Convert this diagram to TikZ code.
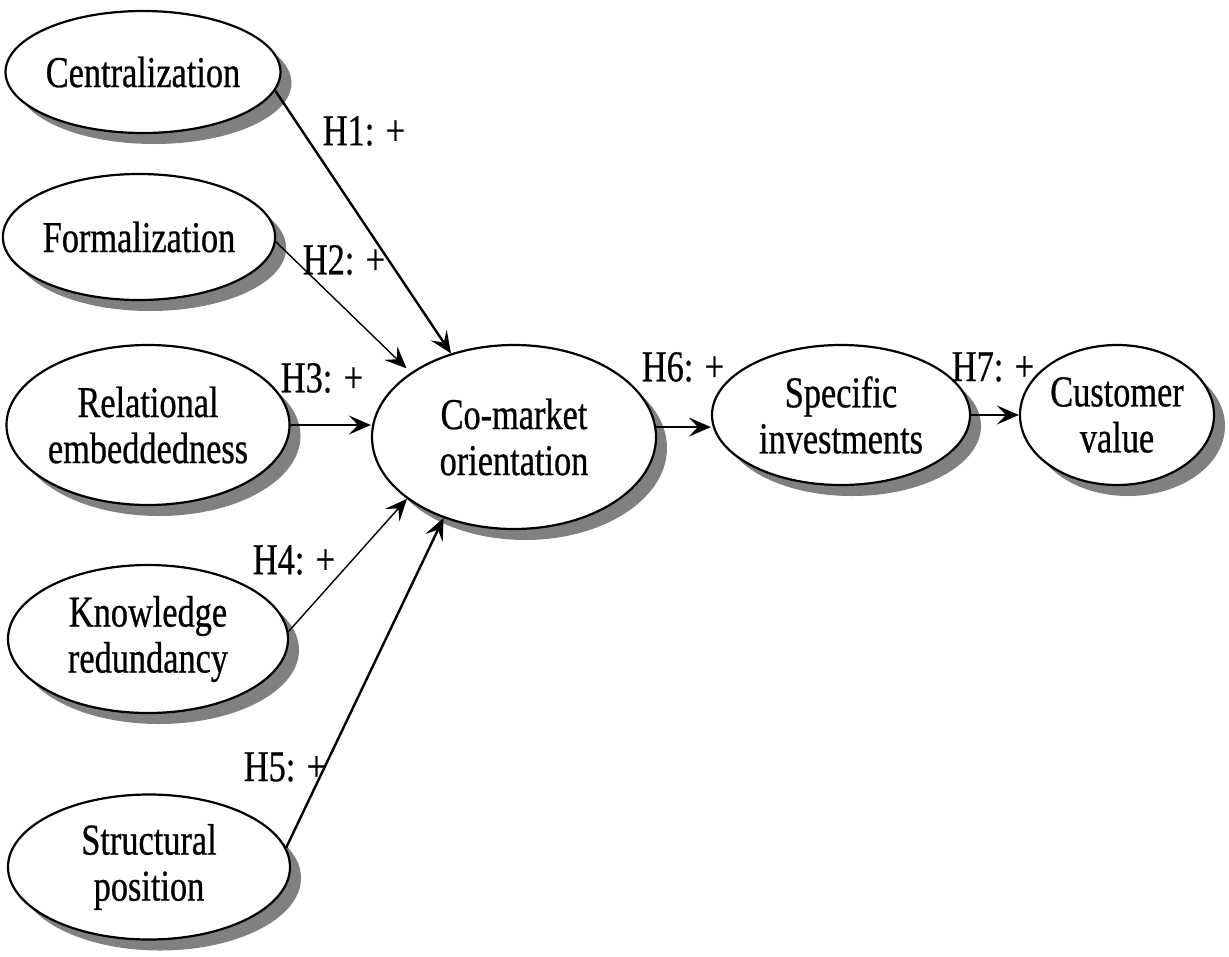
\documentclass[tikz,border=0pt]{standalone}
\usepackage{fontspec}
\setmainfont{Liberation Serif}[FakeStretch=0.78,FakeBold=0.6]
\usetikzlibrary{shapes.geometric,shadows,arrows.meta}
\begin{document}
\begin{tikzpicture}[x=1pt,y=-1pt,
  construct/.style={ellipse, draw, line width=2.2pt, fill=white, inner sep=0pt,
    align=center, font=\fontsize{44}{46}\selectfont,
    drop shadow={shadow xshift=11pt, shadow yshift=-11pt, fill=black!50, opacity=1}},
  link/.style={line width=2.4pt, -{Stealth[length=22pt,width=19pt,inset=9pt]}},
  thinlink/.style={link, line width=1.4pt},
  hyp/.style={font=\fontsize{44}{46}\selectfont, inner sep=0pt}]
\useasboundingbox (0,0) rectangle (1229,956);

% antecedents
\node[construct, minimum width=266pt, minimum height=122pt] (cent) at (143,72) {Centralization};
\node[construct, minimum width=258pt, minimum height=126pt] (form) at (139,237) {Formalization};
\node[construct, minimum width=280pt, minimum height=160pt] (rel) at (148,425) {Relational\\embeddedness};
\node[construct, minimum width=280pt, minimum height=148pt] (know) at (148,639) {Knowledge\\redundancy};
\node[construct, minimum width=282pt, minimum height=145pt] (struct) at (149,867) {Structural\\position};

% mediators and outcome
\node[construct, minimum width=284pt, minimum height=184pt] (cm) at (514,437) {Co-market\\orientation};
\node[construct, minimum width=258pt, minimum height=140pt] (spec) at (841,415) {Specific\\investments};
\node[construct, minimum width=194pt, minimum height=140pt] (cust) at (1117,415) {Customer\\value};

% hypothesised paths
\draw[link] (cent.-8) -- (cm.127);
\draw[thinlink, shorten >=6pt] (form.-2) -- (cm.148);
\draw[link] (rel.east) -- (rel.east -| cm.west);
\draw[thinlink] (know.3) -- (cm.210);
\draw[link] (struct.8) -- (cm.229);
\draw[link] (cm.4) -- (cm.4 -| spec.west);
\draw[link] (spec.east) -- (cust.west);

% path labels
\node[hyp] (h1) at (364,131) {H1: +};
\node[hyp] (h2) at (344,260) {H2: +};
\node[hyp] (h3) at (322,378) {H3: +};
\node[hyp] (h4) at (294,560) {H4: +};
\node[hyp] (h5) at (285,767) {H5: +};
\node[hyp] (h6) at (683,367) {H6: +};
\node[hyp] (h7) at (993,367) {H7: +};
\end{tikzpicture}
\end{document}
